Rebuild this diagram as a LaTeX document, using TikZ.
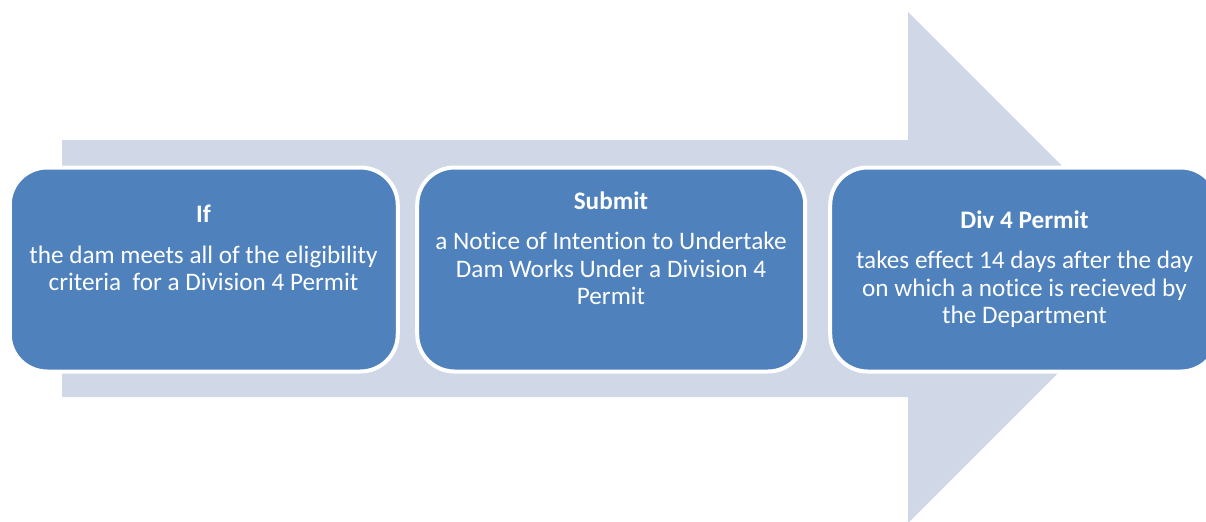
\documentclass[tikz,border=0pt]{standalone}
\usepackage{fontspec}
\setmainfont{Carlito}[RawFeature=-liga]
\usetikzlibrary{positioning}

\definecolor{stepblue}{RGB}{79,129,189}
\definecolor{arrowgrey}{RGB}{208,216,232}

\tikzstyle{stepbox} = [rectangle, rounded corners=28pt, minimum width=291pt, minimum height=153pt, draw=white, line width=3pt, fill=stepblue]
\tikzstyle{steptitle} = [text=white, font=\bfseries\fontsize{18.9}{20.6}\selectfont, anchor=base, inner sep=0pt]
\tikzstyle{stepbody} = [text=white, font=\fontsize{18.9}{20.6}\selectfont, align=center, anchor=base, inner sep=0pt]

\begin{document}
\begin{tikzpicture}[x=0.75pt, y=-0.75pt]
\useasboundingbox (0,0) rectangle (1206,521);
%Big arrow behind the steps
\fill [arrowgrey] (62,140) -- (908,140) -- (908,12) -- (1163.5,267.5) -- (908,523) -- (908,397) -- (62,397) -- cycle;

%Step blocks
\node (ifbox) [stepbox] at (203.75,269.5) {};
\node (submitbox) [stepbox, right=11.6pt of ifbox] {};
\node (permitbox) [stepbox, right=15.75pt of submitbox] {};

%Texts (body nodes sit on the baseline of their last line)
\node (iftitle) [steptitle] at (203.5,222.5) {If};
\node (ifbody) [stepbody] at (203.5,290.5) {the dam meets all of the eligibility\\criteria\ \ for a Division 4 Permit};
\node (submittitle) [steptitle] at (611,209.5) {Submit};
\node (submitbody) [stepbody] at (611,304.5) {a Notice of Intention to Undertake\\Dam Works Under a Division 4\\Permit};
\node (permittitle) [steptitle] at (1024.5,228.5) {Div 4 Permit};
\node (permitbody) [stepbody] at (1024.5,323.5) {takes effect 14 days after the day\\on which a notice is recieved by\\the Department};
\end{tikzpicture}
\end{document}
